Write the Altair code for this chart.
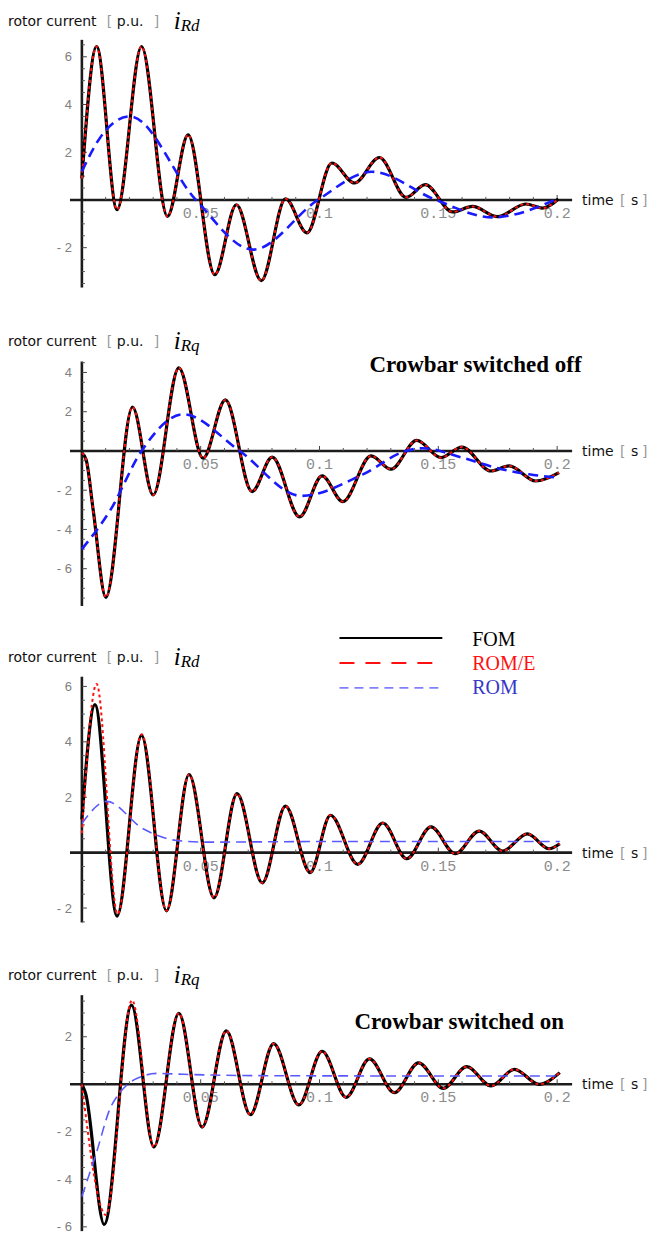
import altair as alt
import pandas as pd

# ---------------- data ----------------
# Panel 1 : crowbar switched off, i_Rd
p1_fom_t = [0.0, 0.0062, 0.0148, 0.0251, 0.0360, 0.0447, 0.0559, 0.0650, 0.0755, 0.0857, 0.0947,
            0.1052, 0.1147, 0.1252, 0.1364, 0.1445, 0.1560, 0.1644, 0.1749, 0.1868, 0.1938, 0.2005]
p1_fom_v = [0.9, 6.43, -0.41, 6.43, -0.69, 2.73, -3.13, -0.20, -3.38, 0.05, -1.38,
            1.55, 0.71, 1.78, 0.11, 0.64, -0.50, -0.27, -0.70, -0.17, -0.34, 0.04]
p1_rome_t = p1_fom_t
p1_rome_v = p1_fom_v
p1_rom_t = [0.0, 0.0076, 0.0202, 0.0480, 0.0720, 0.0993, 0.1220, 0.1490, 0.1728, 0.2008]
p1_rom_v = [1.2, 2.6, 3.5, 0.0, -2.08, 0.0, 1.18, 0.0, -0.73, 0.08]

# Panel 2 : crowbar switched off, i_Rq
p2_fom_t = [0.0, 0.0018, 0.0048, 0.0101, 0.0213, 0.0300, 0.0408, 0.0510, 0.0604, 0.0716, 0.0801,
            0.0916, 0.1011, 0.1098, 0.1217, 0.1301, 0.1409, 0.1511, 0.1599, 0.1721, 0.1798,
            0.1910, 0.2008]
p2_fom_v = [-0.1, -0.45, -3.05, -7.46, 2.24, -2.24, 4.24, -0.37, 2.60, -2.07, -0.31,
            -3.36, -1.27, -2.58, -0.25, -0.93, 0.54, -0.34, 0.20, -1.02, -0.76,
            -1.53, -1.10]
p2_rome_t = p2_fom_t
p2_rome_v = p2_fom_v
p2_rom_t = [0.0, 0.0118, 0.0251, 0.0426, 0.0664, 0.0923, 0.1183, 0.1364, 0.1434, 0.1600,
            0.1741, 0.1882, 0.2008]
p2_rom_v = [-5.0, -3.05, 0.0, 1.87, 0.0, -2.29, -1.19, 0.0, 0.14, -0.34,
            -0.85, -1.19, -1.36]

# Panel 3 : crowbar switched on, i_Rd
p3_fom_t = [0.0, 0.0055, 0.0148, 0.0251, 0.0356, 0.0451, 0.0556, 0.0653, 0.0759, 0.0857, 0.0961,
            0.1046, 0.1161, 0.1266, 0.1367, 0.1469, 0.1571, 0.1672, 0.1770, 0.1875, 0.1966, 0.2011]
p3_fom_v = [1.2, 5.34, -2.29, 4.23, -2.10, 2.82, -1.63, 2.13, -1.09, 1.68, -0.72,
            1.35, -0.42, 1.07, -0.22, 0.93, -0.04, 0.78, 0.06, 0.68, 0.14, 0.32]
p3_rome_t = [0.0, 0.0062, 0.0150, 0.0252] + p3_fom_t[4:]
p3_rome_v = [0.7, 6.09, -2.22, 4.27] + p3_fom_v[4:]
p3_rom_t = [0.0, 0.0104, 0.0258, 0.0398, 0.0520, 0.1000, 0.1500, 0.2011]
p3_rom_v = [1.05, 1.85, 0.86, 0.44, 0.38, 0.40, 0.40, 0.40]

# Panel 4 : crowbar switched on, i_Rq
p4_fom_t = [0.0, 0.0016, 0.0094, 0.0209, 0.0303, 0.0408, 0.0506, 0.0608, 0.0709, 0.0807, 0.0913,
            0.1011, 0.1112, 0.1210, 0.1315, 0.1417, 0.1521, 0.1619, 0.1722, 0.1820, 0.1924, 0.2011]
p4_fom_v = [0.0, -0.4, -5.90, 3.33, -2.64, 2.99, -1.80, 2.25, -1.28, 1.71, -0.87,
            1.39, -0.55, 1.07, -0.35, 0.90, -0.17, 0.74, -0.07, 0.63, 0.00, 0.49]
p4_rome_t = [0.0, 0.0101, 0.0211] + p4_fom_t[4:]
p4_rome_v = [0.0, -5.50, 3.54] + p4_fom_v[4:]
p4_rom_t = [0.0, 0.0062, 0.0118, 0.0160, 0.0202, 0.0258, 0.0314, 0.0426, 0.0800, 0.1400, 0.2011]
p4_rom_v = [-4.72, -2.85, -1.04, -0.35, 0.07, 0.35, 0.46, 0.42, 0.36, 0.35, 0.35]

# ticks
x_major_ticks = [0.05, 0.1, 0.15, 0.2]
x_tick_labels = ["0.05", "0.1", "0.15", "0.2"]
x_minor_ticks = [0.01, 0.02, 0.03, 0.04, 0.06, 0.07, 0.08, 0.09, 0.11, 0.12, 0.13, 0.14,
                 0.16, 0.17, 0.18, 0.19]

p1_ymaj = [6, 4, 2, -2]
p1_ylab = ["6", "4", "2", "- 2"]
p1_ymin = [-3.5, -3, -2.5, -1.5, -1, -0.5, 0.5, 1, 1.5, 2.5, 3, 3.5, 4.5, 5, 5.5, 6.5]
p2_ymaj = [4, 2, -2, -4, -6]
p2_ylab = ["4", "2", "- 2", "- 4", "- 6"]
p2_ymin = [-7.5, -7, -6.5, -5.5, -5, -4.5, -3.5, -3, -2.5, -1.5, -1, -0.5, 0.5, 1, 1.5,
           2.5, 3, 3.5, 4.5]
p3_ymaj = [6, 4, 2, -2]
p3_ylab = ["6", "4", "2", "- 2"]
p3_ymin = [-2.5, -1.5, -1, -0.5, 0.5, 1, 1.5, 2.5, 3, 3.5, 4.5, 5, 5.5]
p4_ymaj = [2, -2, -4, -6]
p4_ylab = ["2", "- 2", "- 4", "- 6"]
p4_ymin = [-5.5, -5, -4.5, -3.5, -3, -2.5, -1.5, -1, -0.5, 0.5, 1, 1.5, 2.5, 3, 3.5]

legend_labels = ["FOM", "ROM/E", "ROM"]

# ---------------- layout / style ----------------
W = 640
XS = alt.Scale(domain=[-0.031092, 0.237815], nice=False, zero=False)
X_AXIS_FROM, X_AXIS_TO = -0.005, 0.2063
AXIS_COL = "#1c1c1c"
SANS = "DejaVu Sans"
SERIF = "Liberation Serif"


def one():
    return alt.Chart(alt.Data(values=[{"k": 0}]))


def build_panel(h, ydom, ylo, yhi, ymaj, ylab, ymin, curves, title_y, sub, sub_dy,
                extra):
    ys = alt.Scale(domain=ydom, nice=False, zero=False)

    def X(f):
        return alt.X(f, type="quantitative", scale=XS, axis=None)

    def Y(f):
        return alt.Y(f, type="quantitative", scale=ys, axis=None)

    layers = []
    # axis lines
    layers.append(alt.Chart(pd.DataFrame({"t0": [X_AXIS_FROM], "t1": [X_AXIS_TO], "v": [0.0]}))
                  .mark_rule(color=AXIS_COL, strokeWidth=2.6)
                  .encode(x=X("t0"), x2="t1", y=Y("v")))
    layers.append(alt.Chart(pd.DataFrame({"t": [0.0], "v0": [ylo], "v1": [yhi]}))
                  .mark_rule(color=AXIS_COL, strokeWidth=2.6)
                  .encode(x=X("t"), y=Y("v0"), y2="v1"))
    # x ticks (pointing up)
    layers.append(alt.Chart(pd.DataFrame({"t": x_minor_ticks, "v": 0.0}))
                  .mark_rule(color="#555", strokeWidth=1, y2Offset=-3)
                  .encode(x=X("t"), y=Y("v"), y2="v"))
    layers.append(alt.Chart(pd.DataFrame({"t": x_major_ticks, "v": 0.0}))
                  .mark_rule(color="#444", strokeWidth=1, y2Offset=-5)
                  .encode(x=X("t"), y=Y("v"), y2="v"))
    # y ticks (pointing right)
    layers.append(alt.Chart(pd.DataFrame({"t": 0.0, "v": ymin}))
                  .mark_rule(color="#555", strokeWidth=1, x2Offset=3)
                  .encode(x=X("t"), x2="t", y=Y("v")))
    layers.append(alt.Chart(pd.DataFrame({"t": 0.0, "v": ymaj}))
                  .mark_rule(color="#444", strokeWidth=1, x2Offset=5)
                  .encode(x=X("t"), x2="t", y=Y("v")))
    # tick labels
    layers.append(alt.Chart(pd.DataFrame({"t": x_major_ticks, "v": 0.0, "lab": x_tick_labels}))
                  .mark_text(font="Liberation Mono", fontSize=15, color="#8c8c8c",
                             align="center", baseline="alphabetic", dy=18)
                  .encode(x=X("t"), y=Y("v"), text="lab:N"))
    layers.append(alt.Chart(pd.DataFrame({"t": 0.0, "v": ymaj, "lab": ylab}))
                  .mark_text(font="Liberation Sans", fontSize=13, color="#808080",
                             align="right", baseline="alphabetic", dx=-10, dy=4.5)
                  .encode(x=X("t"), y=Y("v"), text="lab:N"))
    # axis titles
    for txt, xx, col in [("time", 575, "#111"), ("[", 613, "#999"),
                         ("s", 624, "#111"), ("]", 635, "#999")]:
        layers.append(alt.Chart(pd.DataFrame({"v": [0.0]}))
                      .mark_text(text=txt, font=SANS, fontSize=14, color=col,
                                 align="left", baseline="alphabetic", dy=5)
                      .encode(x=alt.value(xx), y=Y("v")))
    for txt, xx, col in [("rotor current", 0, "#111"), ("[", 99, "#999"),
                         ("p.u.", 109, "#111"), ("]", 146, "#999")]:
        layers.append(one().mark_text(text=txt, font=SANS, fontSize=14, color=col,
                                      align="left", baseline="alphabetic")
                      .encode(x=alt.value(xx), y=alt.value(title_y)))
    layers.append(one().mark_text(text="i", font=SERIF, fontStyle="italic", fontSize=25,
                                  color="#000", align="left", baseline="alphabetic")
                  .encode(x=alt.value(166), y=alt.value(title_y + 3)))
    layers.append(one().mark_text(text=sub, font=SERIF, fontStyle="italic", fontSize=17,
                                  color="#000", align="left", baseline="alphabetic")
                  .encode(x=alt.value(173), y=alt.value(title_y + sub_dy)))
    # curves
    (ft, fv), (rt, rv), (bt, bv), blue_style = curves
    layers.append(alt.Chart(pd.DataFrame({"t": ft, "v": fv}))
                  .mark_line(interpolate="monotone", color="#000", strokeWidth=3.2)
                  .encode(x=X("t"), y=Y("v")))
    layers.append(alt.Chart(pd.DataFrame({"t": rt, "v": rv}))
                  .mark_line(interpolate="monotone", color="#ff1010", strokeWidth=2,
                             strokeDash=[3, 3])
                  .encode(x=X("t"), y=Y("v")))
    layers.append(alt.Chart(pd.DataFrame({"t": bt, "v": bv}))
                  .mark_line(interpolate="monotone", **blue_style)
                  .encode(x=X("t"), y=Y("v")))
    layers.extend(extra)
    return alt.layer(*layers).properties(width=W, height=h)


BLUE_STRONG = dict(color="#1a1aff", strokeWidth=2.6, strokeDash=[10, 6])
BLUE_LIGHT = dict(color="#5a5aff", strokeWidth=1.6, strokeDash=[10, 6])

crow_off = [one().mark_text(text="Crowbar switched off", font=SERIF, fontWeight="bold",
                            fontSize=23, color="#000", align="left", baseline="alphabetic")
            .encode(x=alt.value(362), y=alt.value(76))]
crow_on = [one().mark_text(text="Crowbar switched on", font=SERIF, fontWeight="bold",
                           fontSize=23, color="#000", align="left", baseline="alphabetic")
           .encode(x=alt.value(347), y=alt.value(96))]

legend = [
    one().mark_rule(color="#000", strokeWidth=2)
    .encode(x=alt.value(332), x2=alt.value(435), y=alt.value(22)),
    one().mark_rule(color="#ff1010", strokeWidth=2, strokeDash=[15, 11])
    .encode(x=alt.value(332), x2=alt.value(435), y=alt.value(47)),
    one().mark_rule(color="#8080ff", strokeWidth=1.6, strokeDash=[9, 6])
    .encode(x=alt.value(332), x2=alt.value(435), y=alt.value(72)),
]
for lab, yy, col in zip(legend_labels, [30, 54, 78], ["#000", "#ff1010", "#3636c8"]):
    legend.append(one().mark_text(text=lab, font=SERIF, fontSize=20, color=col,
                                  align="left", baseline="alphabetic")
                  .encode(x=alt.value(465), y=alt.value(yy)))

p1 = build_panel(284, [-4.046, 7.837], -3.67, 6.71, p1_ymaj, p1_ylab, p1_ymin,
                 ((p1_fom_t, p1_fom_v), (p1_rome_t, p1_rome_v), (p1_rom_t, p1_rom_v), BLUE_STRONG),
                 13, "Rd", 5, [])
p2 = build_panel(320, [-8.412, 7.873], -7.9, 4.56, p2_ymaj, p2_ylab, p2_ymin,
                 ((p2_fom_t, p2_fom_v), (p2_rome_t, p2_rome_v), (p2_rom_t, p2_rom_v), BLUE_STRONG),
                 50, "Rq", 5, crow_off)
p3 = build_panel(318, [-2.919, 8.541], -2.52, 6.35, p3_ymaj, p3_ylab, p3_ymin,
                 ((p3_fom_t, p3_fom_v), (p3_rome_t, p3_rome_v), (p3_rom_t, p3_rom_v), BLUE_LIGHT),
                 46, "Rd", 5, legend)
p4 = build_panel(303, [-6.387, 6.345], -6.18, 3.75, p4_ymaj, p4_ylab, p4_ymin,
                 ((p4_fom_t, p4_fom_v), (p4_rome_t, p4_rome_v), (p4_rom_t, p4_rom_v), BLUE_LIGHT),
                 47, "Rq", 5, crow_on)

chart = (alt.vconcat(p1, p2, p3, p4, spacing=0, bounds="flush")
         .properties(padding=0)
         .configure_view(stroke=None))

chart.save("out.html", embed_options={"renderer": "svg", "actions": False})
